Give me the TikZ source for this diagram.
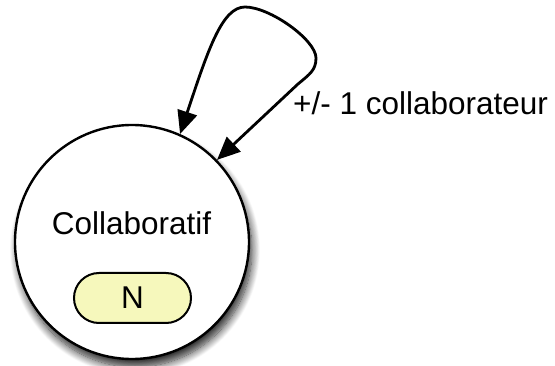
\documentclass[tikz,border=0pt]{standalone}
\usepackage{fontspec}
\setmainfont{Liberation Sans}
\usetikzlibrary{shadows.blur,arrows.meta,shapes.misc}
\definecolor{pillfill}{HTML}{F6F8BC}
\tikzset{
  statecircle/.style={circle, draw=black, line width=2.4pt, fill=white,
    minimum size=234pt, inner sep=0pt,
    blur shadow={shadow xshift=3pt, shadow yshift=-8pt,
      shadow blur radius=8pt, shadow blur steps=12, shadow opacity=85}},
  pill/.style={rounded rectangle, draw=black, line width=2pt, fill=pillfill,
    minimum width=117pt, minimum height=50pt, inner sep=0pt},
  lbl/.style={font=\fontsize{31.5}{36}\selectfont, inner sep=0pt},
  looparrow/.style={line width=2.8pt, {Triangle[length=23pt,width=20pt]}-{Triangle[length=23pt,width=20pt]}}
}
\begin{document}
\begin{tikzpicture}[x=1pt,y=-1pt]
  \useasboundingbox (0,0) rectangle (555,366);
  % state
  \node[statecircle] (c) at (132,242) {};
  \node[lbl, anchor=base] (name) at (131.5,235) {Collaboratif};
  \node[pill, lbl] (n) at (132.5,298) {\raisebox{1.5pt}{N}};
  % self loop
  \draw[looparrow] (c.66) .. controls (208,50) and (222,7) .. (245,7)
    .. controls (270,7) and (316,40) .. (316,58)
    .. controls (316,70) and (310,74) .. (298,84) -- (c.44.3);
  \node[lbl, anchor=base west] (loop) at (293,115) {+/- 1 collaborateur};
\end{tikzpicture}
\end{document}
